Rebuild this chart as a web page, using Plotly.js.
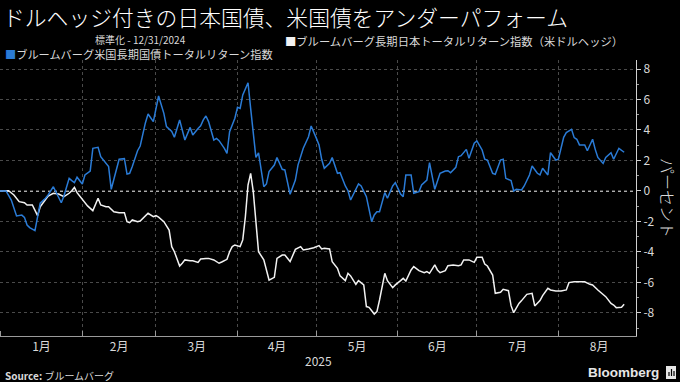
<!DOCTYPE html>
<html><head><meta charset="utf-8">
<script src="https://cdn.plot.ly/plotly-3.0.1.min.js"></script>
<style>html,body{margin:0;padding:0;background:#000;}#chart{width:680px;height:382px;}</style>
</head><body><div id="chart"></div>
<script>
// ブルームバーグ米国長期国債トータルリターン指数 (blue)
const usDates = [
'2024-12-31','2025-01-03','2025-01-05','2025-01-07','2025-01-09','2025-01-10','2025-01-11','2025-01-12','2025-01-14','2025-01-15','2025-01-16','2025-01-18','2025-01-19','2025-01-21','2025-01-22','2025-01-24','2025-01-25','2025-01-27','2025-01-28','2025-01-29','2025-01-30',
'2025-02-01','2025-02-02','2025-02-04','2025-02-05','2025-02-07','2025-02-08','2025-02-09','2025-02-11','2025-02-12','2025-02-14','2025-02-15','2025-02-17','2025-02-18','2025-02-19','2025-02-20','2025-02-22','2025-02-23','2025-02-25','2025-02-26','2025-02-28',
'2025-03-01','2025-03-02','2025-03-04','2025-03-05','2025-03-07','2025-03-08','2025-03-10','2025-03-11','2025-03-12','2025-03-14','2025-03-15','2025-03-17','2025-03-18','2025-03-19','2025-03-20','2025-03-21','2025-03-23','2025-03-24','2025-03-25','2025-03-27','2025-03-28','2025-03-29','2025-03-31',
'2025-04-01','2025-04-02','2025-04-03','2025-04-05','2025-04-06','2025-04-08','2025-04-09','2025-04-11','2025-04-12','2025-04-13','2025-04-15','2025-04-16','2025-04-18','2025-04-19','2025-04-21','2025-04-23','2025-04-24','2025-04-26','2025-04-28','2025-04-29',
'2025-05-01','2025-05-02','2025-05-03','2025-05-04','2025-05-06','2025-05-07','2025-05-09','2025-05-10','2025-05-12','2025-05-13','2025-05-14','2025-05-16','2025-05-17','2025-05-18','2025-05-20','2025-05-22','2025-05-23','2025-05-24','2025-05-25','2025-05-27','2025-05-28','2025-05-30','2025-05-31',
'2025-06-02','2025-06-03','2025-06-04','2025-06-06','2025-06-07','2025-06-09','2025-06-10','2025-06-12','2025-06-13','2025-06-14','2025-06-15','2025-06-17','2025-06-19','2025-06-20','2025-06-21','2025-06-23','2025-06-24','2025-06-25','2025-06-27','2025-06-28','2025-06-30',
'2025-07-01','2025-07-03','2025-07-04','2025-07-05','2025-07-07','2025-07-08','2025-07-10','2025-07-11','2025-07-12','2025-07-14','2025-07-15','2025-07-16','2025-07-18','2025-07-19','2025-07-21','2025-07-22','2025-07-24','2025-07-25','2025-07-26','2025-07-28','2025-07-29','2025-07-31',
'2025-08-01','2025-08-03','2025-08-04','2025-08-06','2025-08-07','2025-08-08','2025-08-09','2025-08-11','2025-08-12','2025-08-14','2025-08-15','2025-08-16','2025-08-18','2025-08-19','2025-08-21','2025-08-22','2025-08-24','2025-08-25','2025-08-26'];
const usValues = [
0,0,-0.6,-1.64,-1.58,-1.73,-2.23,-2.4,-2.6,-1.57,-0.8,-0.48,-0.26,0.28,-0.1,-0.77,-0.33,0.83,0.68,0.55,0.9,
0.46,1.05,1.31,2.8,2.86,2.25,2.03,1.6,0.11,1.49,2.08,2.12,1.11,1.16,1.6,2.64,2.95,4.48,5.05,4.55,
5.53,6.23,5.09,4.22,3.9,3.52,4.66,4.0,3.34,4.17,3.67,4.1,4.28,4.66,4.92,4.55,3.34,3.45,3.3,2.8,2.47,3.89,4.77,
5.49,5.42,6.3,7.1,5.42,2.2,2.5,0.28,0.46,1.27,1.7,2.2,1.42,1.38,-0.22,0.72,1.7,2.8,3.56,4.26,
3.45,3.02,2.08,1.49,1.81,2.2,1.16,1.2,0.33,0.02,-0.59,0.07,0.46,0.33,-0.37,-2.01,-1.57,-1.36,-1.36,-0.11,-0.48,0.33,0.55,
-0.2,-0.37,1.05,1.05,-0.15,-0.04,0.39,0.72,1.86,1.05,0.11,1.16,1.31,1.33,1.2,1.55,2.25,2.32,2.73,2.14,3.13,
3.28,2.69,2.08,2.03,1.16,1.09,2.03,2.08,0.83,0.68,0,0.11,0.07,0.33,1.05,1.64,1.16,1.05,1.49,1.05,2.51,2.03,
2.08,3.52,3.83,4.04,3.5,3.39,3.02,3.02,2.64,3.39,2.73,2.2,1.81,2.2,2.51,2.08,2.8,2.64,2.54];

// ブルームバーグ長期日本トータルリターン指数（米ドルヘッジ） (white)
const jpDates = [
'2024-12-31','2025-01-04','2025-01-06','2025-01-08','2025-01-10','2025-01-11','2025-01-13','2025-01-14','2025-01-15','2025-01-16','2025-01-18','2025-01-19','2025-01-21','2025-01-23','2025-01-25','2025-01-27','2025-01-28','2025-01-29','2025-01-30',
'2025-02-01','2025-02-03','2025-02-05','2025-02-07','2025-02-08','2025-02-10','2025-02-11','2025-02-13','2025-02-15','2025-02-17','2025-02-18','2025-02-19','2025-02-20','2025-02-22','2025-02-23','2025-02-25','2025-02-26','2025-02-28',
'2025-03-01','2025-03-02','2025-03-04','2025-03-06','2025-03-07','2025-03-08','2025-03-09','2025-03-10','2025-03-11','2025-03-12','2025-03-14','2025-03-15','2025-03-17','2025-03-18','2025-03-20','2025-03-21','2025-03-23','2025-03-25','2025-03-26','2025-03-28','2025-03-29','2025-03-30','2025-03-31',
'2025-04-02','2025-04-03','2025-04-04','2025-04-05','2025-04-06','2025-04-07','2025-04-08','2025-04-09','2025-04-11','2025-04-12','2025-04-13','2025-04-15','2025-04-16','2025-04-18','2025-04-19','2025-04-21','2025-04-22','2025-04-23','2025-04-25','2025-04-26','2025-04-28','2025-04-30',
'2025-05-02','2025-05-03','2025-05-04','2025-05-06','2025-05-07','2025-05-09','2025-05-10','2025-05-12','2025-05-13','2025-05-14','2025-05-16','2025-05-17','2025-05-19','2025-05-20','2025-05-21','2025-05-23','2025-05-24','2025-05-25','2025-05-27','2025-05-28','2025-05-30','2025-05-31',
'2025-06-02','2025-06-03','2025-06-04','2025-06-06','2025-06-07','2025-06-09','2025-06-11','2025-06-12','2025-06-13','2025-06-15','2025-06-16','2025-06-17','2025-06-19','2025-06-20','2025-06-22','2025-06-24','2025-06-25','2025-06-26','2025-06-28','2025-06-30',
'2025-07-01','2025-07-03','2025-07-04','2025-07-05','2025-07-07','2025-07-08','2025-07-10','2025-07-11','2025-07-13','2025-07-14','2025-07-15','2025-07-17','2025-07-18','2025-07-20','2025-07-22','2025-07-23','2025-07-25','2025-07-26','2025-07-28','2025-07-29','2025-07-31',
'2025-08-02','2025-08-04','2025-08-05','2025-08-07','2025-08-09','2025-08-11','2025-08-13','2025-08-14','2025-08-16','2025-08-17','2025-08-19','2025-08-21','2025-08-22','2025-08-23','2025-08-25','2025-08-26'];
const jpValues = [
0,0.02,-0.26,-0.7,-0.77,-0.92,-0.92,-1.25,-1.62,-1.03,-0.59,-0.33,-0.15,-0.2,-0.37,-0.15,0.02,0.24,-0.11,
-0.55,-0.98,-1.29,-0.48,-0.92,-1.03,-1.03,-1.36,-1.42,-1.42,-2.01,-2.08,-1.9,-2.01,-1.97,-1.64,-1.46,-1.68,
-1.62,-1.72,-2.01,-2.56,-3.65,-3.98,-4.48,-4.92,-4.74,-4.52,-4.57,-4.57,-4.68,-4.46,-4.42,-4.42,-4.52,-4.74,-4.66,-4.48,-3.98,-3.65,-3.54,
-3.65,-3.21,-1.68,0.39,1.16,-0.04,-2.12,-3.98,-4.52,-5.22,-5.84,-5.66,-4.42,-4.2,-4.2,-4.63,-4.2,-3.83,-3.65,-3.87,-3.8,-3.72,
-3.58,-3.8,-3.76,-3.8,-4.63,-5.07,-5.57,-5.88,-5.4,-5.57,-6.12,-5.88,-6.16,-7.58,-7.63,-8.07,-7.91,-7.15,-5.4,-5.88,-6.34,-6.16,
-5.88,-5.73,-5.9,-5.18,-4.96,-5.22,-5.36,-5.29,-5.4,-4.85,-5.18,-5.36,-5.22,-4.9,-4.85,-4.9,-4.85,-4.52,-4.52,-4.68,
-4.35,-4.35,-4.79,-4.92,-5.51,-6.71,-6.64,-6.45,-6.54,-7.52,-7.98,-7.37,-7.19,-6.78,-6.71,-7.54,-7.19,-6.86,-6.38,-6.49,-6.56,
-6.56,-6.49,-6.01,-5.95,-5.95,-5.95,-6.12,-6.16,-6.49,-6.64,-6.93,-7.37,-7.48,-7.65,-7.63,-7.43];

const yTickVals = [-8,-6,-4,-2,0,2,4,6,8];
const yTickText = ['-8','-6','-4','-2','0','2','4','6','8'];

const titleText = 'ドルヘッジ付きの日本国債、米国債をアンダーパフォーム';
const subtitleText = '標準化 - 12/31/2024';
const usName = 'ブルームバーグ米国長期国債トータルリターン指数';
const jpName = 'ブルームバーグ長期日本トータルリターン指数（米ドルヘッジ）';
const yTitle = 'パーセント';
const yearLabel = '2025';
const sourceText = '<b>Source:</b> ブルームバーグ';

const BLUE = '#2a7bd6';
const WHITE = '#f2f2f2';
const FONT = '"Noto Sans CJK JP", "Noto Sans", sans-serif';

// geometry helpers (plot area: x 0..636px, y 60..336px)
const W = 680, H = 382, L = 0, R = 44, T = 60, B = 46;
const pw = W - L - R, ph = H - T - B;
const px = x => (x - L) / pw;
const py = y => (H - B - y) / ph;

const traces = [
  {x: jpDates, y: jpValues, type: 'scatter', mode: 'lines', name: jpName,
   line: {color: WHITE, width: 1.5}, hoverinfo: 'skip'},
  {x: usDates, y: usValues, type: 'scatter', mode: 'lines', name: usName,
   line: {color: BLUE, width: 1.5}, hoverinfo: 'skip'}
];

const layout = {
  width: W, height: H,
  margin: {l: L, r: R, t: T, b: B, pad: 0},
  paper_bgcolor: '#000', plot_bgcolor: '#000',
  font: {family: FONT, color: '#d9d9d9', size: 12},
  showlegend: false,
  title: {text: titleText, x: 3 / W, xanchor: 'left', xref: 'container',
          y: 1 - 18 / H, yanchor: 'middle', yref: 'container',
          font: {family: FONT, size: 21.8, color: '#ffffff', weight: 300}},
  xaxis: {
    type: 'date',
    range: ['2024-12-31 17:00', '2025-08-30 12:00'],
    dtick: 'M1', tick0: '2025-01-01',
    ticklabelmode: 'period', tickformat: '%-m月',
    ticks: 'inside', ticklen: 5, tickcolor: '#9a9a9a',
    showline: true, linecolor: '#9a9a9a', linewidth: 1,
    showgrid: true, gridcolor: '#4a4a4a', griddash: 'dot', gridwidth: 1,
    zeroline: false,
    tickfont: {size: 12, color: '#d9d9d9'},
    fixedrange: true
  },
  yaxis: {
    side: 'right', range: [-9.51, 8.59],
    tickvals: yTickVals, ticktext: yTickText,
    ticks: 'outside', ticklen: 4, tickcolor: '#cfcfcf',
    minor: {dtick: 1, tick0: 0, ticks: 'outside', ticklen: 2, tickcolor: '#999', showgrid: false},
    showline: true, linecolor: '#cfcfcf', linewidth: 1,
    showgrid: true, gridcolor: '#4a4a4a', griddash: 'dot', gridwidth: 1,
    zeroline: false,
    tickfont: {size: 12, color: '#d9d9d9'},
    fixedrange: true
  },
  shapes: [
    {type: 'line', xref: 'paper', yref: 'y', x0: 0, x1: 1, y0: 0, y1: 0,
     line: {color: '#e6e6e6', width: 1.5, dash: 'dot'}, layer: 'below'},
    {type: 'rect', xref: 'paper', yref: 'paper', x0: px(666), x1: px(676), y0: py(379), y1: py(366),
     fillcolor: '#e6e6e6', line: {width: 0}},
    {type: 'line', xref: 'paper', yref: 'paper', x0: px(669), x1: px(669), y0: py(376), y1: py(372),
     line: {color: '#000', width: 1.2}},
    {type: 'line', xref: 'paper', yref: 'paper', x0: px(671.5), x1: px(671.5), y0: py(376), y1: py(369),
     line: {color: '#000', width: 1.2}},
    {type: 'line', xref: 'paper', yref: 'paper', x0: px(674), x1: px(674), y0: py(376), y1: py(371),
     line: {color: '#000', width: 1.2}}
  ],
  annotations: [
    {text: subtitleText, xref: 'paper', yref: 'paper', x: px(140), y: py(39.5),
     xanchor: 'center', yanchor: 'middle', showarrow: false, font: {size: 10, color: '#d9d9d9'}},
    {text: '<span style="color:' + WHITE + '">■</span>' + jpName, xref: 'paper', yref: 'paper',
     x: px(283), y: py(40.5), xanchor: 'left', yanchor: 'middle', showarrow: false,
     font: {size: 11.3, color: '#d9d9d9'}},
    {text: '<span style="color:' + BLUE + '">■</span>' + usName, xref: 'paper', yref: 'paper',
     x: px(3), y: py(53.5), xanchor: 'left', yanchor: 'middle', showarrow: false,
     font: {size: 11.2, color: '#d9d9d9'}},
    {text: yTitle, xref: 'paper', yref: 'paper', x: px(668), y: py(198),
     xanchor: 'center', yanchor: 'middle', textangle: 90, showarrow: false,
     font: {size: 16, color: '#d9d9d9', weight: 300}},
    {text: yearLabel, xref: 'paper', yref: 'paper', x: 0.5, y: py(360),
     xanchor: 'center', yanchor: 'middle', showarrow: false, font: {size: 12, color: '#d9d9d9'}},
    {text: sourceText, xref: 'paper', yref: 'paper', x: px(3), y: py(375),
     xanchor: 'left', yanchor: 'middle', showarrow: false, font: {size: 10, color: '#d9d9d9'}},
    {text: '<b>Bloomberg</b>', xref: 'paper', yref: 'paper', x: px(661), y: py(372),
     xanchor: 'right', yanchor: 'middle', showarrow: false,
     font: {family: '"Liberation Sans", Arial, sans-serif', size: 13.5, color: '#e6e6e6'}}
  ]
};

Plotly.newPlot('chart', traces, layout, {staticPlot: true, displayModeBar: false});
</script>
</body></html>
